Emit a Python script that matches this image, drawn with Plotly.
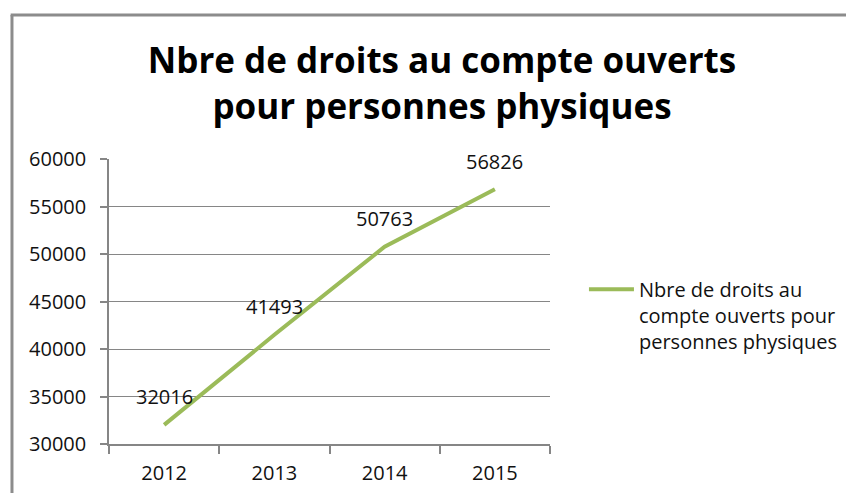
import plotly.graph_objects as go

years = ["2012", "2013", "2014", "2015"]
values = [32016, 41493, 50763, 56826]
series_name = "Nbre de droits au<br>compte ouverts pour<br>personnes physiques"
title_text = "Nbre de droits au compte ouverts<br>pour personnes physiques"

FONT = "Open Sans"
GREEN = "#9BBB59"
GRAY = "#868686"

W, H = 846, 485  # page body has an 8px margin

fig = go.Figure()
fig.add_trace(go.Scatter(
    x=years, y=values, mode="lines", name=series_name,
    line=dict(color=GREEN, width=4),
    showlegend=True,
))

# category axis annotations use category index positions
annotations = [
    dict(x=i, y=v, xref="x", yref="y", text=str(v), showarrow=False, yshift=28,
         font=dict(family=FONT, size=20, color="#111111"))
    for i, v in enumerate(values)
]

fig.update_layout(
    width=W, height=H,
    margin=dict(l=101, r=304, t=151, b=49, autoexpand=False),
    paper_bgcolor="white", plot_bgcolor="white",
    title=dict(text=title_text, x=0.513, xanchor="center",
               y=1 - 65 / H, yanchor="top", yref="container",
               font=dict(family=FONT, size=35, color="#000000", weight="bold")),
    xaxis=dict(type="category", showgrid=False, showline=True, linecolor=GRAY,
               linewidth=1.5, ticks="outside", tickson="boundaries", ticklen=8,
               tickcolor=GRAY, tickwidth=1.5, tickangle=0,
               tickfont=dict(family=FONT, size=20, color="#111111"),
               ticklabelstandoff=10, zeroline=False, range=[-0.5, 3.5]),
    yaxis=dict(range=[30000, 60000], dtick=5000, tickformat="d", showgrid=True,
               gridcolor=GRAY, gridwidth=1, showline=True, linecolor=GRAY,
               linewidth=1.5, ticks="outside", ticklen=7, tickcolor=GRAY,
               tickwidth=1.5,
               tickfont=dict(family=FONT, size=20, color="#111111"),
               ticklabelstandoff=10, zeroline=False),
    legend=dict(x=1.077, xanchor="left", y=0.452, yanchor="middle", valign="top",
                font=dict(family=FONT, size=20, color="#111111"),
                bgcolor="rgba(0,0,0,0)", itemwidth=45),
    annotations=annotations,
    shapes=[
        dict(type="line", xref="paper", yref="paper", x0=-0.22, x1=-0.22,
             y0=1.505, y1=-0.3, line=dict(color="#8C8C8C", width=3)),
        dict(type="line", xref="paper", yref="paper", x0=-0.223, x1=1.75,
             y0=1.505, y1=1.505, line=dict(color="#8C8C8C", width=3)),
    ],
)

fig.write_html("out.html")
